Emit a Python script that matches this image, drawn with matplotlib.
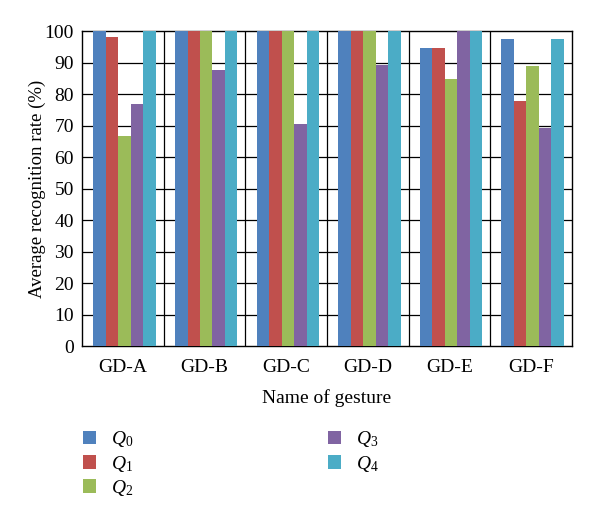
import matplotlib
matplotlib.use("Agg")
import matplotlib.pyplot as plt
import numpy as np
from matplotlib.patches import Patch

categories = ["GD-A", "GD-B", "GD-C", "GD-D", "GD-E", "GD-F"]
series_names = ["$Q_0$", "$Q_1$", "$Q_2$", "$Q_3$", "$Q_4$"]
q0 = [100, 100, 100, 100, 94.7, 97.6]
q1 = [98.0, 100, 100, 100, 94.7, 77.8]
q2 = [66.7, 100, 100, 100, 84.8, 88.9]
q3 = [76.9, 87.6, 70.6, 89.1, 100, 69.3]
q4 = [100, 100, 100, 100, 100, 97.6]
series = [q0, q1, q2, q3, q4]
colors = ["#4F81BD", "#C0504D", "#9BBB59", "#8064A2", "#4BACC6"]
yticks = [0, 10, 20, 30, 40, 50, 60, 70, 80, 90, 100]

plt.rcParams['font.family'] = ['Liberation Serif', 'DejaVu Serif']
plt.rcParams['mathtext.fontset'] = 'custom'
plt.rcParams['mathtext.it'] = 'Liberation Serif:italic'
plt.rcParams['mathtext.rm'] = 'Liberation Serif'

fig = plt.figure(figsize=(6.0, 5.18), dpi=100)
ax = fig.add_axes([0.137, 0.332, 0.816, 0.608])

x = np.arange(len(categories))
w = 0.153
for i, (vals, c) in enumerate(zip(series, colors)):
    ax.bar(x + (i - 2) * w + 0.02, vals, width=w, color=c, zorder=3, label=series_names[i])

ax.set_xlim(-0.5, len(categories) - 0.5)
ax.set_ylim(0, 100)
ax.set_yticks(yticks)
ax.set_xticks(x)
ax.set_xticklabels(categories)
for yv in yticks[1:-1]:
    ax.axhline(yv, color='black', lw=0.9, zorder=1)
for xv in np.arange(0.5, len(categories) - 0.5, 1):
    ax.axvline(xv, color='black', lw=0.9, zorder=1)
for s in ax.spines.values():
    s.set_color('black')
    s.set_linewidth(1.0)
ax.tick_params(axis='y', direction='in', length=0, labelsize=14, pad=6)
ax.tick_params(axis='x', length=0, labelsize=14, pad=9)
ax.set_ylabel("Average recognition rate (%)", fontsize=13.5, labelpad=-1)
ax.set_xlabel("Name of gesture", fontsize=14, labelpad=10)

handles = [Patch(facecolor=c, edgecolor='none') for c in colors]
fig.legend(handles, series_names, loc='upper left', bbox_to_anchor=(0.125, 0.186),
           ncol=2, frameon=False, fontsize=14, handlelength=0.7, handleheight=0.7,
           handletextpad=0.75, columnspacing=10.0, labelspacing=0.22, borderaxespad=0)

fig.savefig("out.png", dpi=100)
